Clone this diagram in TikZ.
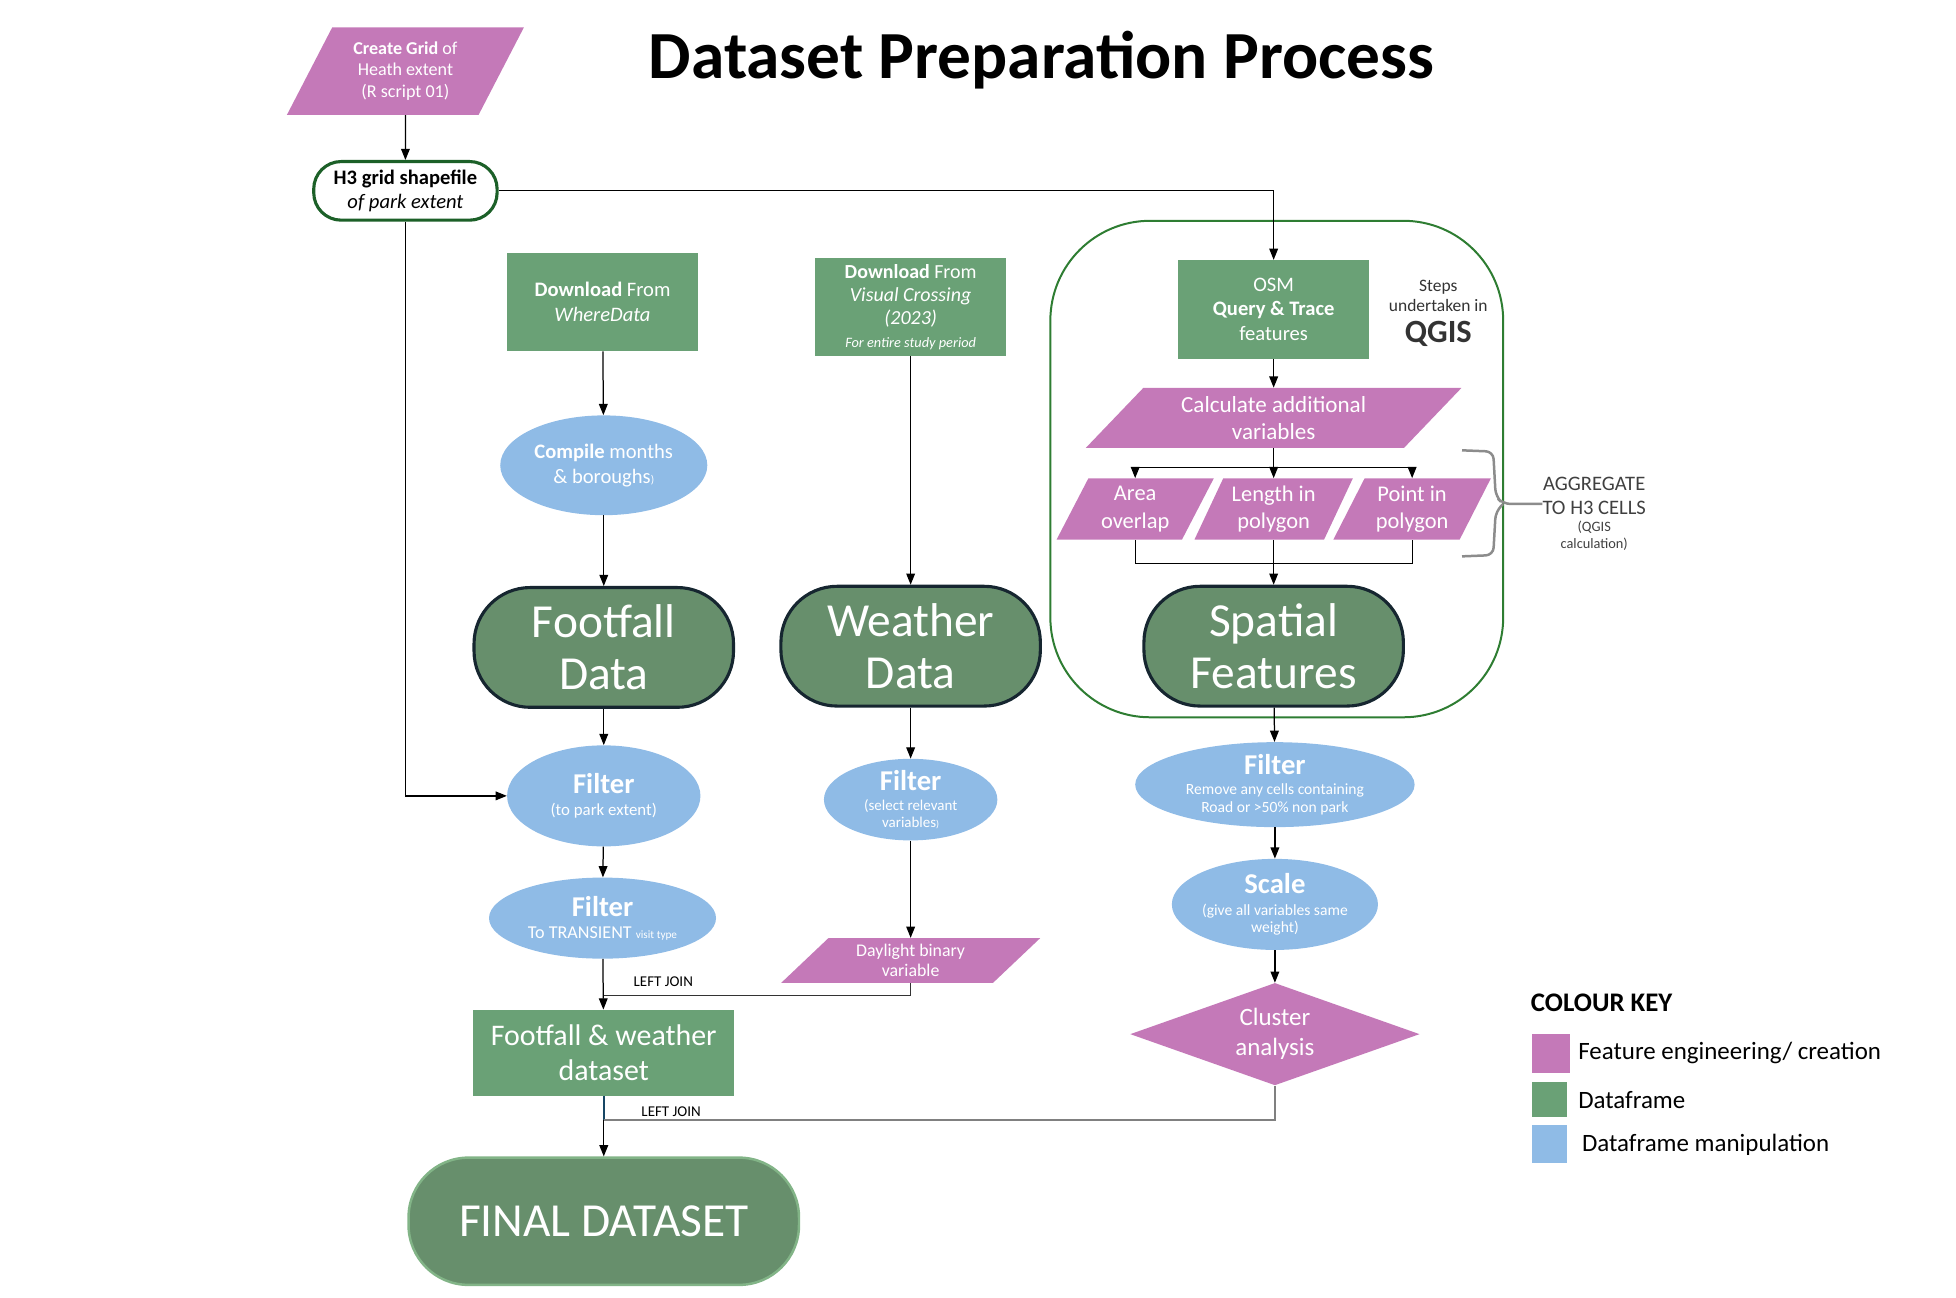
\documentclass[tikz,border=0pt]{standalone}
\usepackage{fontspec}
\setmainfont{Carlito}
\usetikzlibrary{arrows.meta,shapes.geometric}
\definecolor{fepink}{RGB}{196,121,184}
\definecolor{dfgreen}{RGB}{106,161,118}
\definecolor{bigGreen}{RGB}{103,143,108}
\definecolor{dmblue}{RGB}{143,187,230}
\definecolor{navy}{RGB}{22,38,48}
\definecolor{qgisGreen}{RGB}{46,125,50}
\definecolor{hexGreen}{RGB}{28,96,40}
\definecolor{finalEdge}{RGB}{130,180,135}
\definecolor{joinBlue}{RGB}{22,70,100}
\newcommand{\fsz}[2]{\fontsize{#1}{#2}\selectfont}

\begin{document}
\begin{tikzpicture}[x=1pt,y=-1pt,>={Triangle[length=9pt,width=7pt]},
    every node/.style={text=white,align=center,inner sep=0pt},
    pgram/.style={trapezium,trapezium stretches=true,fill=fepink},
    dfbox/.style={rectangle,fill=dfgreen,minimum width=153pt,minimum height=79pt},
    dmell/.style={ellipse,fill=dmblue,font=\fsz{12.5}{14}},
    bigdf/.style={rectangle,rounded corners=45pt,fill=bigGreen,draw=navy,line width=2.5pt,
        minimum width=208pt,minimum height=96pt,font=\fsz{38}{42}},
    lbl/.style={text=black,font=\fsz{12}{14}},
    flow/.style={line width=1pt}]
        \useasboundingbox (0,0) rectangle (1568,1040);
        % title
        \node[text=black,font=\fsz{54}{58}\bfseries] (title) at (835,48) {Dataset Preparation Process};
        % QGIS frame
        \draw[qgisGreen,line width=1.6pt,rounded corners=80pt] (842,177) rectangle (1205,575);
        % grid
        \node[pgram,trapezium left angle=61,trapezium right angle=119,minimum width=190pt,minimum height=70pt,font=\fsz{14.5}{17}] (grid) at (325,57) {\textbf{Create Grid} of\\Heath extent\\(R script 01)};
        \node[draw=hexGreen,line width=2.5pt,rounded corners=22pt,fill=white,text=black,minimum width=147pt,minimum height=47pt,font=\fsz{16.5}{19}] (h3) at (325,153) {\textbf{H3 grid shapefile}\\\textit{of park extent}};
        % footfall column
        \node[dfbox,font=\fsz{16.5}{20}] (dlwd) at (483,242) {\textbf{Download} From\\\textit{WhereData}};
        \node[dmell,minimum width=166pt,minimum height=80pt,font=\fsz{16.5}{20}] (comp) at (484,373) {\textbf{Compile} months\\\& boroughs{\fsz{9}{10})}};
        \node[bigdf] (foot) at (484,519) {Footfall\\Data};
        \node[dmell,minimum width=155pt,minimum height=81pt] (filt1) at (484,638) {{\fsz{23}{24}\textbf{Filter}}\\[3pt]{\fsz{13.5}{14}(to park extent)}};
        \node[dmell,minimum width=182pt,minimum height=65pt] (filt2) at (483,736) {{\fsz{23}{24}\textbf{Filter}}\\[4pt]{\fsz{14.5}{15}To TRANSIENT {\fsz{9}{10}visit type}}};
        \node[rectangle,fill=dfgreen,minimum width=209pt,minimum height=69pt,font=\fsz{24}{28}] (fw) at (484,844) {Footfall \& weather\\dataset};
        \node[rectangle,rounded corners=48pt,fill=bigGreen,draw=finalEdge,line width=2pt,minimum width=313pt,minimum height=102pt,font=\fsz{38}{40}] (final) at (484,979) {FINAL DATASET};
        % weather column
        \node[dfbox,font=\fsz{16}{18.5}] (dlvc) at (730,246) {\textbf{Download} From\\\textit{Visual Crossing}\\\textit{(2023)}\\{\fsz{11.5}{12}\textit{For entire study period}}};
        \node[bigdf] (wthr) at (730,518) {Weather\\Data};
        \node[dmell,minimum width=139pt,minimum height=63pt,font=\fsz{12}{13.5}] (filt3) at (730,641) {{\fsz{23}{24}\textbf{Filter}}\\[2pt](select relevant\\variables{\fsz{8}{8})}};
        \node[pgram,trapezium left angle=46,trapezium right angle=134,minimum width=208pt,minimum height=36pt,font=\fsz{14.3}{16}] (dayl) at (730,770) {Daylight binary\\variable};
        % spatial column
        \node[dfbox,font=\fsz{16.5}{20}] (osm) at (1021,248) {OSM\\\textbf{Query \& Trace}\\features};
        \node[text=black!80,font=\fsz{14}{16}] (steps) at (1153,251) {Steps\\undertaken in\\[7pt]{\fsz{26}{26}\textbf{QGIS}}};
        \node[pgram,trapezium left angle=47,trapezium right angle=133,minimum width=302pt,minimum height=48pt,font=\fsz{18.5}{22}] (calc) at (1021,335) {Calculate additional\\variables};
        \node[pgram,trapezium left angle=63,trapezium right angle=117,minimum width=127pt,minimum height=49pt,font=\fsz{18}{22}] (area) at (910,408) {Area\\overlap};
        \node[pgram,trapezium left angle=63,trapezium right angle=117,minimum width=127pt,minimum height=49pt,font=\fsz{18}{22}] (len) at (1021,408) {Length in\\polygon};
        \node[pgram,trapezium left angle=63,trapezium right angle=117,minimum width=127pt,minimum height=49pt,font=\fsz{18}{22}] (point) at (1132,408) {Point in\\polygon};
        \node[text=black!75,font=\fsz{11.5}{14}] (agg) at (1278,412) {{\fsz{16.5}{19}AGGREGATE}\\[5pt]{\fsz{16.5}{19}TO H3 CELLS}\\(QGIS\\calculation)};
        \node[bigdf] (spat) at (1021,518) {Spatial\\Features};
        \node[dmell,minimum width=224pt,minimum height=63pt] (filt4) at (1022,629) {{\fsz{23}{24}\textbf{Filter}}\\[2pt]Remove any cells containing\\Road or >50\% non park};
        \node[dmell,minimum width=164pt,minimum height=73pt] (scale) at (1022,725) {{\fsz{23}{24}\textbf{Scale}}\\[3pt](give all variables same\\weight)};
        \node[diamond,fill=fepink,minimum width=232pt,minimum height=82pt,aspect=2.8,font=\fsz{20}{24}] (clus) at (1022,829) {Cluster\\analysis};
        % colour key
        \node[text=black,font=\fsz{21.5}{24}\bfseries,anchor=west] (keyt) at (1227,804) {COLOUR KEY};
        \node[fill=fepink,minimum width=30pt,minimum height=31pt,anchor=north west] (kpk) at (1228,829) {};
        \node[fill=dfgreen,minimum width=28pt,minimum height=28pt,anchor=north west] (kgr) at (1228,867) {};
        \node[fill=dmblue,minimum width=28pt,minimum height=30pt,anchor=north west] (kbl) at (1228,902) {};
        \node[text=black,font=\fsz{20}{22},anchor=west] (kpkl) at (1265,844) {Feature engineering/ creation};
        \node[text=black,font=\fsz{20}{22},anchor=west] (kgrl) at (1265,882) {Dataframe};
        \node[text=black,font=\fsz{20}{22},anchor=west] (kbll) at (1268,918) {Dataframe manipulation};

        % connectors
        \coordinate (j1) at (484,798);
        \coordinate (j2) at (484,898);
        \coordinate (sp) at (1021,375);
        \draw[flow,->] (grid.south) -- (h3.north);
        \draw[flow,->] (h3.east) -| (osm.north);
        \draw[flow,->] (h3.south) |- (filt1.west);
        \draw[flow,->] (dlwd) -- (comp);
        \draw[flow,->] (comp) -- (foot);
        \draw[flow,->] (foot) -- (filt1);
        \draw[flow,->] (filt1) -- (filt2);
        \draw[flow,->] (filt2) -- (fw) node[lbl,pos=0.45,right=24pt] {LEFT JOIN};
        \draw[flow,->] (dlvc) -- (wthr);
        \draw[flow,->] (wthr) -- (filt3);
        \draw[flow,->] (filt3) -- (dayl);
        \draw[flow,black!80] (dayl.south -| dayl.center) |- (j1);
        \draw[flow,->] (osm) -- (calc);
        \draw[flow] (calc.south -| calc.center) -- (sp);
        \draw[flow,->] (sp) -| (area.north -| area.center);
        \draw[flow,->] (sp) -| (point.north -| point.center);
        \draw[flow,->] (sp) -- (len.north -| len.center);
        \draw[flow] (area.south -| area.center) -- ++(0,19) -| (point.south -| point.center);
        \draw[flow,->] (len.south -| len.center) -- (spat.north);
        \draw[flow,->] (spat) -- (filt4);
        \draw[flow,->] (filt4) -- (scale);
        \draw[flow,->] (scale) -- (clus);
        \draw[flow,->] (fw) -- (final);
        \draw[line width=2pt,joinBlue] (fw.south) -- (j2);
        \draw[line width=1.6pt,black!50] (clus.south) |- (j2);
        \node[lbl] (lj2) at (538,891) {LEFT JOIN};
        % brace
        \draw[line width=2pt,black!45,rounded corners=6pt] (1172,361) -- (1197,362) -- (1199,398) -- (1205,404) -- (agg.west |- 0,404);
        \draw[line width=2pt,black!45,rounded corners=6pt] (1172,446) -- (1197,445) -- (1199,410) -- (1205,404);
\end{tikzpicture}
\end{document}
